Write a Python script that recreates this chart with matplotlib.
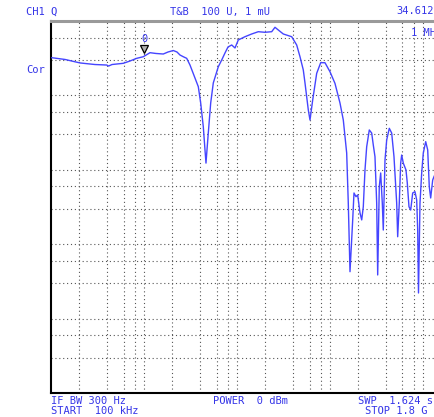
import numpy as np
import matplotlib
matplotlib.use("Agg")
import matplotlib.pyplot as plt
import matplotlib.transforms as mtransforms

# ---- data (frequency in MHz, value in U) ----
freq_mhz = [0.101, 0.140, 0.203, 0.294, 0.393, 0.411, 0.448, 0.593, 0.700, 0.826,
            0.973, 1.149, 1.333, 1.597, 1.795, 2.047, 2.243, 2.416, 2.622, 2.853,
            3.096, 3.505, 3.804, 4.036, 4.305, 4.490, 4.603, 4.718, 4.873, 5.172,
            5.516, 6.246, 6.795, 7.374, 7.942, 8.704, 9.446, 10.25, 12.10, 14.29,
            16.83, 19.87, 23.46, 25.46, 27.63, 31.27, 38.51, 43.59, 47.31, 51.33,
            53.55, 58.13, 60.63, 64.82, 71.56, 79.03, 87.90, 99.49, 112.6, 127.5,
            138.4, 150.5, 156.6, 163.4, 174.7, 180.4, 189.6, 197.7, 209.4, 218.4,
            227.2, 236.9, 247.1, 263.6, 279.7, 291.1, 303.5, 316.6, 324.6, 337.7,
            349.6, 363.8, 372.9, 389.0, 405.7, 432.8, 459.2, 486.2, 519.7, 532.8,
            554.3, 573.9, 588.3, 612.1, 654.5, 676.0, 705.0, 735.5, 772.7, 818.1,
            853.4, 874.9, 892.4, 926.1, 965.8, 1005, 1067, 1121, 1166, 1207,
            1269, 1310, 1411]
q_values = [32.1, 30.4, 27.3, 26.0, 25.6, 24.8, 26.0, 27.0, 29.0, 31.5,
            33.1, 37.5, 36.6, 36.0, 38.3, 40.1, 38.3, 34.9, 33.1, 31.5,
            25.6, 17.1, 13.1, 7.90, 3.80, 1.85, 1.23, 1.85, 3.12, 7.90,
            14.7, 24.3, 29.9, 37.2, 44.7, 47.6, 43.4, 55.6, 61.5, 66.9,
            71.8, 70.5, 71.8, 82.3, 75.7, 66.9, 61.5, 47.6, 33.1, 22.0,
            14.7, 6.37, 4.67, 8.68, 19.8, 27.5, 27.5, 20.8, 14.5, 7.90,
            4.67, 1.68, 0.358, 0.0427, 0.212, 0.488, 0.435, 0.459, 0.263, 0.212,
            0.319, 0.994, 2.04, 3.43, 3.12, 2.15, 1.50, 0.358, 0.0386, 0.593,
            0.906, 0.358, 0.155, 1.35, 2.52, 3.61, 3.12, 1.50, 0.358, 0.126,
            0.358, 1.23, 1.58, 1.23, 0.994, 0.665, 0.319, 0.288, 0.488, 0.508,
            0.393, 0.155, 0.0221, 0.358, 0.906, 1.68, 2.39, 1.85, 0.593, 0.418,
            0.729, 0.808, 0.994]

start_hz = 100e3
stop_hz = 1.8e9
top_u = 100.0
bottom_u = 1e-3
marker_mhz = 1.0

# grid positions
xgrid_hz = [2e5 * k * 10 ** n for n in range(4) for k in (1, 2, 3, 4, 5)]
ygrid_u = [m * 10.0 ** e for e in range(-3, 2) for m in (3, 6, 10)]
ygrid_u = [v for v in ygrid_u if bottom_u < v < top_u]

W, H = 435, 417
fig = plt.figure(figsize=(W / 100, H / 100), dpi=100)
fig.patch.set_facecolor("white")

L, R, T, B = 51.5, 446.8, 21, 393
ax = fig.add_axes([L / W, 1 - B / H, (R - L) / W, (B - T) / H])
ax.set_xscale("log")
ax.set_yscale("log")
ax.set_xlim(start_hz, stop_hz)
ax.set_ylim(bottom_u, top_u)
ax.set_xticks([])
ax.set_yticks([])
ax.xaxis.set_minor_locator(matplotlib.ticker.NullLocator())
ax.yaxis.set_minor_locator(matplotlib.ticker.NullLocator())

for xv in xgrid_hz:
    ax.axvline(xv, color="#555555", lw=0.8, ls=(0, (1, 2.5)), zorder=1)
for yv in ygrid_u:
    ax.axhline(yv, color="#555555", lw=0.8, ls=(0, (1, 2.5)), zorder=1)

for s in ("left", "bottom", "right"):
    ax.spines[s].set_color("black")
    ax.spines[s].set_linewidth(1.5)
ax.spines["top"].set_color("#9a9a9a")
ax.spines["top"].set_linewidth(2.2)

f_hz = np.array(freq_mhz) * 1e6
ax.plot(f_hz, q_values, color="#4545ff", lw=1.0, zorder=3, clip_on=True)

# marker
mk_hz = marker_mhz * 1e6
mk_val = 10 ** np.interp(np.log10(mk_hz), np.log10(f_hz), np.log10(q_values))
tri_tr = mtransforms.offset_copy(ax.transData, fig=fig, x=0, y=5, units="points")
ax.plot([mk_hz], [mk_val], marker="v", ms=6, mfc="#b0b0b0", mec="black",
        mew=0.9, transform=tri_tr, zorder=4, clip_on=False)
lab_tr = mtransforms.offset_copy(ax.transData, fig=fig, x=0, y=12.5, units="points")
ax.text(mk_hz, mk_val, "0", transform=lab_tr, ha="center", va="center",
        family="DejaVu Sans Mono", fontsize=7.5, color="#3535e8", zorder=4)

txt_kw = dict(family="DejaVu Sans Mono", fontsize=7.5, color="#3535e8",
              ha="left", va="center")

def ftext(x, y, s):
    fig.text(x / W, 1 - y / H, s, **txt_kw)

ftext(26, 11.5, "CH1 Q")
ftext(170, 11.5, "T&B  100 U, 1 mU")
ftext(396, 11.5, "34.612")
ftext(26, 70, "Cor")
ftext(411, 33, "1 MH")
ftext(51, 400.5, "IF BW 300 Hz")
ftext(51, 410.5, "START  100 kHz")
ftext(213, 400.5, "POWER  0 dBm")
ftext(358, 400.5, "SWP  1.624 s")
ftext(365, 410.5, "STOP 1.8 G")

fig.savefig("out.png", dpi=100)
